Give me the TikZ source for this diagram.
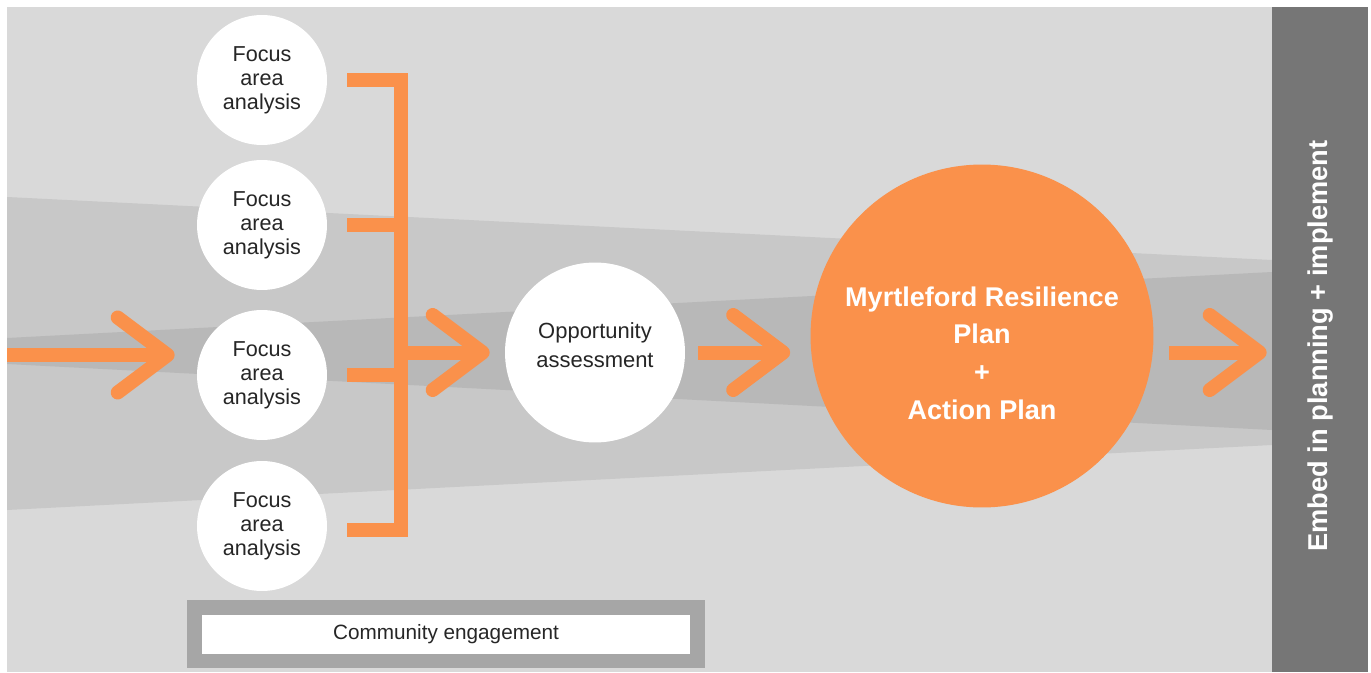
\documentclass[tikz,border=0pt]{standalone}
\usepackage{fontspec}
\setmainfont{Liberation Sans}
\usetikzlibrary{arrows.meta}

\definecolor{bgcol}{HTML}{D9D9D9}
\definecolor{bandout}{HTML}{C8C8C8}
\definecolor{bandin}{HTML}{B8B8B8}
\definecolor{orng}{HTML}{FA914B}
\definecolor{bardark}{HTML}{767676}
\definecolor{framegray}{HTML}{A6A6A6}

\begin{document}
\begin{tikzpicture}[x=0.02cm, y=-0.02cm]

      \tikzset{focus/.style={circle, fill=white, minimum size=2.6cm, inner sep=0pt, align=center, text=black!85, font=\fontsize{12.3}{13.6}\selectfont},
               opptext/.style={align=center, text=black!85, font=\fontsize{12.5}{16.4}\selectfont},
               plantext/.style={align=center, text=white, font=\bfseries\fontsize{15.4}{21.5}\selectfont},
               flow/.style={orng, line width=0.28cm, line cap=butt, -{Straight Barb[length=1.0cm, width=1.5cm, round]}},
               bracket/.style={orng, line width=0.28cm, line join=miter}}
%% Background and bands
      	\useasboundingbox (0,0) rectangle (1371,672);
      	\fill[white] (0,0) rectangle (1371,672);
      	\fill[bgcol] (7,7) rectangle (1272,672);
      	\fill[bandout] (7,197) -- (1272,260) -- (1272,445) -- (7,510) -- cycle;
      	\fill[bandin] (7,338) -- (1272,272) -- (1272,430) -- (7,364) -- cycle;
%% Nodes
      	\node[focus] (fa1) at (262,80) {Focus\\area\\analysis};
      	\node[focus] (fa2) at (262,225) {Focus\\area\\analysis};
      	\node[focus] (fa3) at (262,375) {Focus\\area\\analysis};
      	\node[focus] (fa4) at (262,526) {Focus\\area\\analysis};
      	\node[focus, minimum size=3.6cm, label={[opptext, yshift=0.14cm]center:{Opportunity\\assessment}}] (opp) at (595,352.5) {};
      	\node[circle, fill=orng, minimum size=6.86cm, inner sep=0pt, label={[plantext, yshift=-0.34cm]center:{Myrtleford Resilience\\Plan\\+\\Action Plan}}] (plan) at (982,336) {};
      	\node[fill=bardark, minimum width=1.92cm, minimum height=13.3cm, inner sep=0pt, text=white, font=\bfseries\fontsize{15.5}{18}\selectfont] (embed) at (1320,339.5) {\rotatebox{90}{\kern-0.26cm Embed in planning + implement}};
      	\node[draw=framegray, line width=0.29cm, fill=white, minimum width=10.07cm, minimum height=1.07cm, inner sep=0pt, text=black!85, font=\fontsize{11.8}{14}\selectfont] (ce) at (446,634) {Community engagement};
%% Bracket
      	\coordinate (top) at (401,80);
      	\coordinate (bot) at (401,530);
      	\coordinate (in) at (7,355);
		\draw[bracket] ([xshift=0.4cm]fa1.east) -- (top) -- (bot) -- ([xshift=0.4cm]fa4.east |- bot);
		\draw[bracket] ([xshift=0.4cm]fa2.east) -- (fa2.east -| top);
		\draw[bracket] ([xshift=0.4cm]fa3.east) -- (fa3.east -| top);
%% Arrows
		\draw[flow] (in) -- ([xshift=-0.44cm]fa3.west |- in);
		\draw[flow] (top |- opp) -- ([xshift=-0.3cm]opp.west);
		\draw[flow] ([xshift=0.26cm]opp.east) -- ([xshift=-0.4cm]plan.west |- opp);
		\draw[flow] ([xshift=0.3cm]plan.east |- opp) -- ([xshift=-0.1cm]embed.west |- opp);

	\end{tikzpicture}
\end{document}
